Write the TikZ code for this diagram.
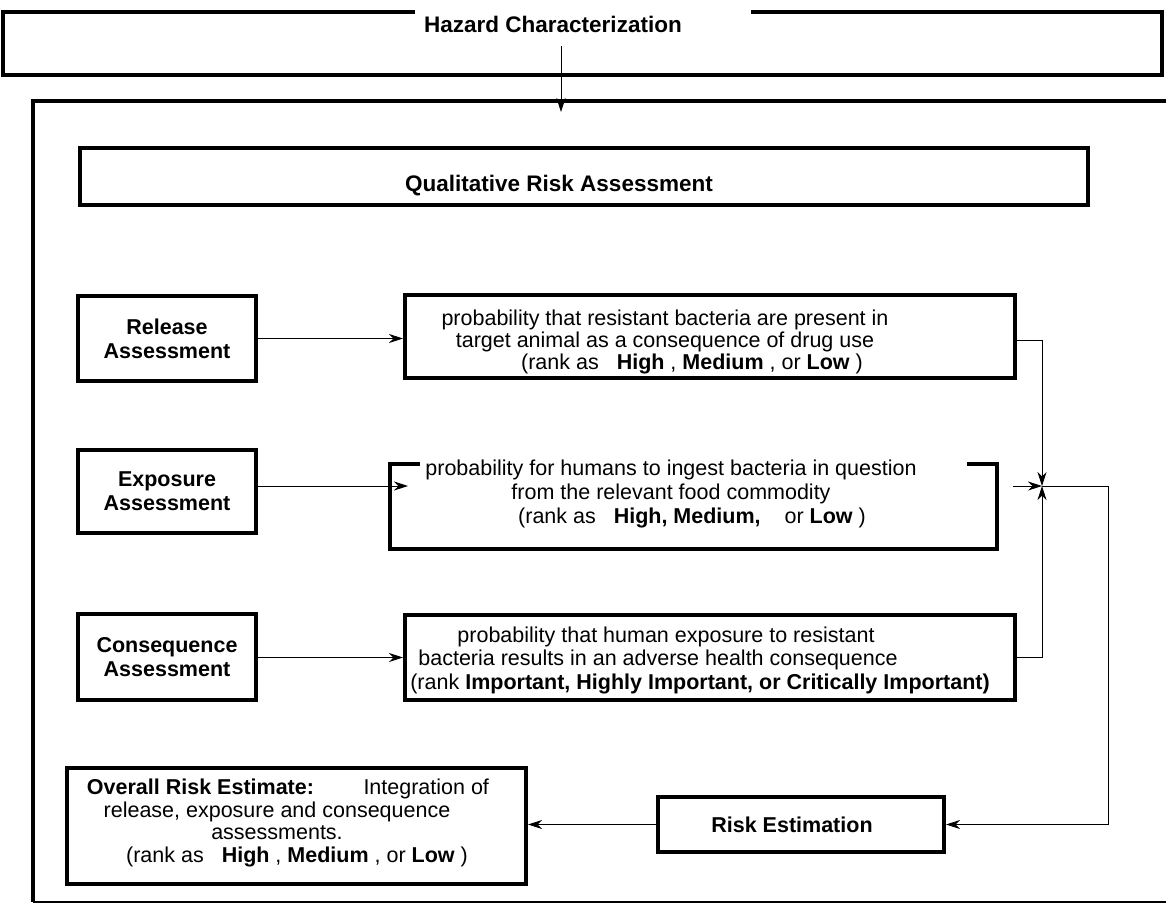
\documentclass[tikz,border=0pt]{standalone}
\usepackage{fontspec}
\setmainfont{Liberation Sans}
\usetikzlibrary{arrows.meta}
\begin{document}
\begin{tikzpicture}[x=1pt,y=-1pt,
  heavy/.style={line width=4pt},
  conn/.style={line width=0.9pt},
  tip/.style={-{Stealth[length=14pt,width=9pt,inset=4.5pt]}},
  txt/.style={font=\fontsize{21.5}{23}\selectfont, align=center, inner sep=0pt},
  ttl/.style={font=\fontsize{22.5}{25}\selectfont\bfseries, inner sep=0pt},
  bx/.style={draw, line width=4pt, inner sep=0pt, font=\fontsize{21.5}{24}\selectfont\bfseries, align=center}
]
\useasboundingbox (0,0) rectangle (1166,905);
% hazard characterization box (top edge broken)
\draw[heavy] (415,12) -- (3,12) -- (3,75) -- (1162,75) -- (1162,12) -- (751,12);
\node[ttl] (haz) at (553,24) {Hazard Characterization};
\coordinate (hazarr) at (561,46);
\coordinate (outtop) at (561,112);
% outer box (open right)
\draw[heavy] (1166,101) -- (33,101) -- (33,902);
\draw[line width=1.5pt] (33,902) -- (1166,902);
\draw[conn,tip] (hazarr) -- (outtop);
% qualitative
\node[bx, minimum width=1008pt, minimum height=57pt] (qra) at (584,176.5) {};
\node[ttl] (qrat) at (559,186) {Qualitative Risk Assessment};
% release
\node[bx, minimum width=178pt, minimum height=85pt] (rel) at (167,338.5) {Release\\Assessment};
\node[bx, minimum width=610pt, minimum height=83pt] (relp) at (710,336.5) {};
\node[txt, font=\fontsize{21.5}{22}\selectfont] (relpt) at (665,342) {probability that resistant bacteria are present in\\
target animal as a consequence of drug use\\
\hspace*{54pt}(rank as\ \ \ \textbf{High} , \textbf{Medium} , or \textbf{Low} )};
% exposure
\node[bx, minimum width=178pt, minimum height=83pt] (exp) at (167,491.5) {Exposure\\Assessment};
\draw[heavy] (420,464) -- (390,464) -- (390,549) -- (997,549) -- (997,464) -- (967,464);
\node[txt, font=\fontsize{21.5}{24}\selectfont] (exppt) at (671,494) {probability for humans to ingest bacteria in question\\
from the relevant food commodity\\
\hspace*{42pt}(rank as\ \ \ \textbf{High, Medium,}\ \ \ \ or \textbf{Low} )};
\coordinate (expin) at (408,486);
% consequence
\node[bx, minimum width=178pt, minimum height=86pt] (con) at (167,657) {Consequence\\Assessment};
\node[bx, minimum width=610pt, minimum height=85pt] (conp) at (710,657.5) {};
\node[txt, font=\fontsize{21.5}{23.5}\selectfont] (conpt) at (700,660) {\hspace*{-68pt}probability that human exposure to resistant\\
\hspace*{-84pt}bacteria results in an adverse health consequence\\
(rank \textbf{Important, Highly Important, or Critically Important)}};
% risk estimation and overall
\node[bx, minimum width=286pt, minimum height=55pt] (risk) at (801,824.5) {\hspace*{-18pt}Risk Estimation};
\node[bx, minimum width=459pt, minimum height=116pt] (ovr) at (296.5,826) {};
\node[txt, font=\fontsize{21.5}{22.7}\selectfont] (ovrt) at (277,823) {\hspace*{22pt}\textbf{Overall Risk Estimate:}\hspace{2.3em}Integration of\\
release, exposure and consequence\\
assessments.\\
\hspace*{40pt}(rank as\ \ \ \textbf{High} , \textbf{Medium} , or \textbf{Low} )};
% junction
\coordinate (J) at (1042,486);
\coordinate (Jin) at (1013,486);
\coordinate (loop) at (1108,486);
\coordinate (relout) at (1015,340);
% connectors
\draw[conn,tip] (rel.east) -- (rel.east -| relp.west);
\draw[conn,tip] (exp.east |- expin) -- (expin);
\draw[conn,tip] (con.east |- conp.west) -- (conp.west);
\draw[conn,tip] (relout) -| (J);
\draw[conn,tip] (conp.east) -| (J);
\draw[conn,tip] (Jin) -- (J);
\draw[conn,tip] (J) -- (loop) |- (risk.east);
\draw[conn,tip] (risk.west) -- (risk.west -| ovr.east);
\end{tikzpicture}
\end{document}
